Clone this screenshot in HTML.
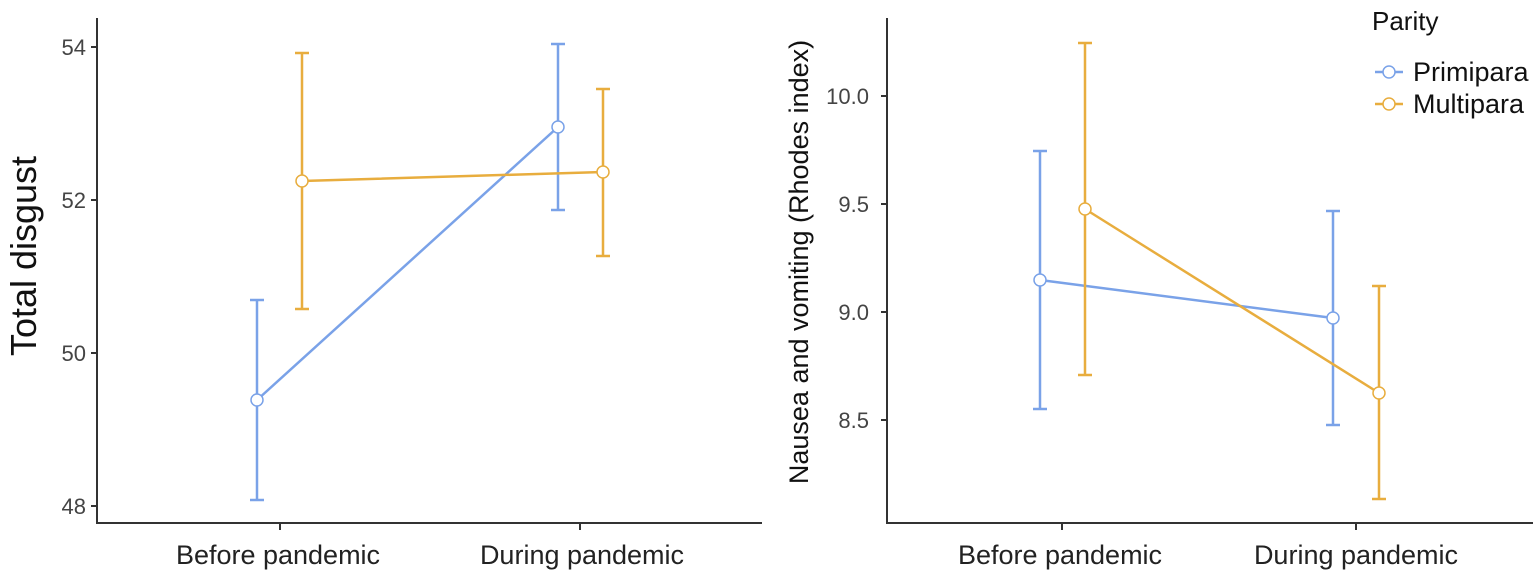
<!DOCTYPE html>
<html><head><meta charset="utf-8"><style>body{margin:0;background:#fff}svg{display:block}text{font-family:"Liberation Sans",Arial,sans-serif}</style></head><body>
<svg width="1535" height="580" viewBox="0 0 1535 580">
<g stroke="#333" stroke-width="2" fill="none">
<path d="M97 18V523H762"/>
<path d="M91 47H97M91 200H97M91 353H97M91 506H97M280 523V530M580 523V530"/>
<path d="M887 18V523H1533"/>
<path d="M881 96H887M881 204H887M881 312H887M881 420H887M1062 523V530M1356 523V530"/>
</g>
<g font-size="22" fill="#444" text-anchor="end">
<text x="86" y="55">54</text><text x="86" y="208">52</text><text x="86" y="361">50</text><text x="86" y="514">48</text>
<text x="869" y="104">10.0</text><text x="869" y="212">9.5</text><text x="869" y="320">9.0</text><text x="869" y="428">8.5</text>
</g>
<g font-size="27" fill="#222" text-anchor="middle">
<text x="278" y="564">Before pandemic</text><text x="582" y="564">During pandemic</text>
<text x="1060" y="564">Before pandemic</text><text x="1356" y="564">During pandemic</text>
</g>
<text x="36" y="256" font-size="36" fill="#111" text-anchor="middle" transform="rotate(-90 36 256)">Total disgust</text>
<text x="808" y="262" font-size="27" fill="#111" text-anchor="middle" transform="rotate(-90 808 262)">Nausea and vomiting (Rhodes index)</text>
<g stroke-width="2.5" fill="none">
<g stroke="#7aa2e8">
<path d="M257 300V500M250 300H264M250 500H264M558 44V210M551 44H565M551 210H565M257 400L558 127"/>
<path d="M1040 151V409M1033 151H1047M1033 409H1047M1333 211V425M1326 211H1340M1326 425H1340M1040 280L1333 318"/>
</g>
<g stroke="#e8ad3e">
<path d="M302 53V309M295 53H309M295 309H309M603 89V256M596 89H610M596 256H610M302 181L603 172"/>
<path d="M1085 43V375M1078 43H1092M1078 375H1092M1379 286V499M1372 286H1386M1372 499H1386M1085 209L1379 393"/>
</g>
</g>
<g fill="#fff" stroke-width="1.5">
<circle cx="257" cy="400" r="6" stroke="#7aa2e8"/><circle cx="558" cy="127" r="6" stroke="#7aa2e8"/>
<circle cx="1040" cy="280" r="6" stroke="#7aa2e8"/><circle cx="1333" cy="318" r="6" stroke="#7aa2e8"/>
<circle cx="302" cy="181" r="6" stroke="#e8ad3e"/><circle cx="603" cy="172" r="6" stroke="#e8ad3e"/>
<circle cx="1085" cy="209" r="6" stroke="#e8ad3e"/><circle cx="1379" cy="393" r="6" stroke="#e8ad3e"/>
</g>
<text x="1372" y="30" font-size="26" fill="#111">Parity</text>
<g stroke-width="2.5"><path d="M1375 72H1403" stroke="#7aa2e8"/><path d="M1375 104H1403" stroke="#e8ad3e"/></g>
<circle cx="1389" cy="72" r="6" fill="#fff" stroke="#7aa2e8" stroke-width="1.5"/>
<circle cx="1389" cy="104" r="6" fill="#fff" stroke="#e8ad3e" stroke-width="1.5"/>
<text x="1413" y="81" font-size="27" fill="#111">Primipara</text>
<text x="1413" y="113" font-size="27" fill="#111">Multipara</text>
</svg>
</body></html>
